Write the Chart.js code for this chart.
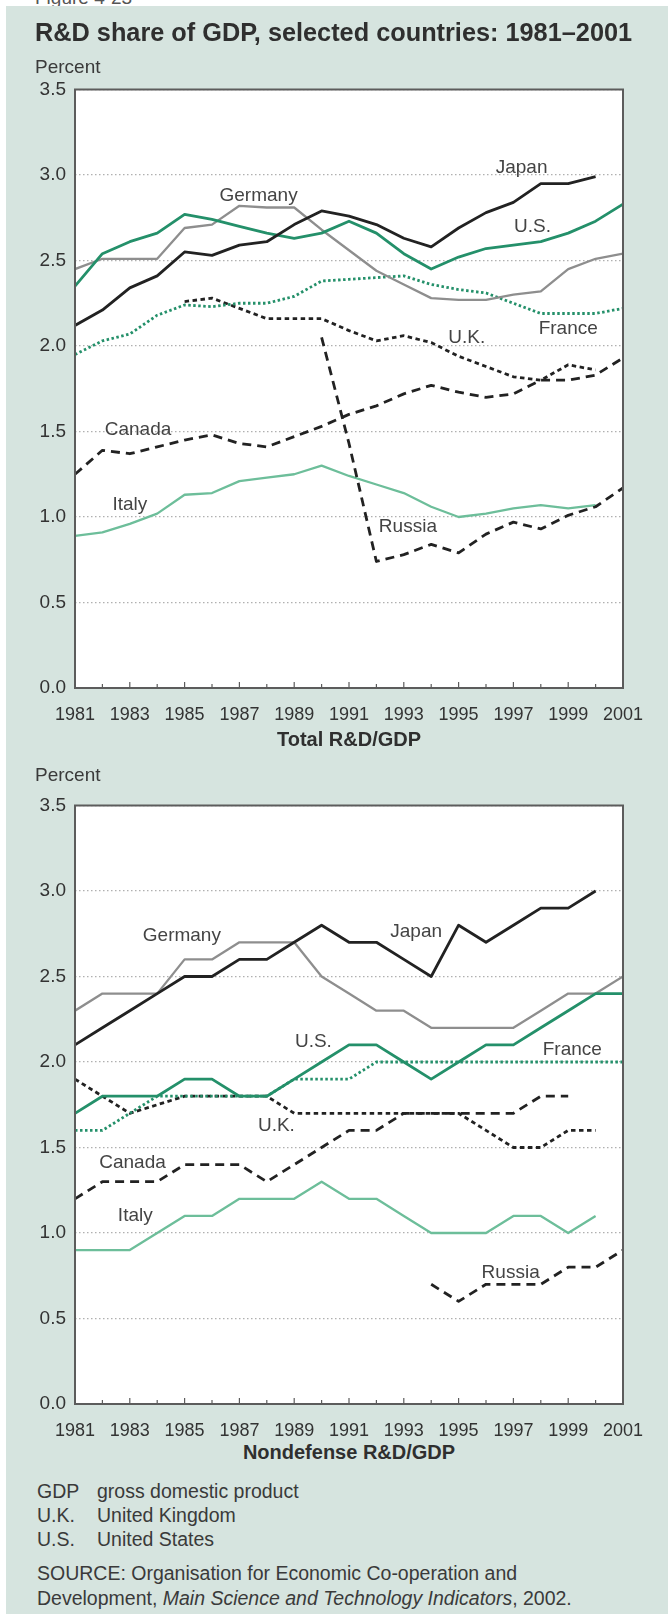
<!DOCTYPE html>
<html>
<head>
<meta charset="utf-8">
<script src="https://cdn.jsdelivr.net/npm/chart.js@4.4.1/dist/chart.umd.min.js"></script>
<style>
    body { margin: 0; background: #fff; }
    #page { position: relative; width: 668px; height: 1614px; overflow: hidden; font-family: "Liberation Sans", Arial, sans-serif; color: #3a3a3a; }
    #bg { position: absolute; left: 6px; top: 6px; right: 0; bottom: 0; background: #d6e4df; z-index: 1; }
    .txt { position: absolute; white-space: nowrap; z-index: 3; }
    canvas { position: absolute; left: 0; z-index: 2; }
    .fig { left: 35px; top: -12px; font-size: 19px; line-height: 19px; color: #555; z-index: 0; }
    .title { left: 35px; top: 17px; font-size: 25.3px; line-height: 30px; font-weight: bold; color: #2f2f2f; }
    .unit { left: 35px; font-size: 19px; line-height: 22px; }
    .sub { left: 75px; width: 548px; text-align: center; font-size: 20px; line-height: 24px; font-weight: bold; color: #2f2f2f; }
    .note { left: 37px; font-size: 19.5px; line-height: 24px; }
    .note b { font-weight: normal; display: inline-block; width: 60px; }
</style>
</head>
<body>
<div id="page">
    <div class="txt fig">Figure 4-23</div>
    <div id="bg"></div>
    <div class="txt title">R&amp;D share of GDP, selected countries: 1981–2001</div>

    <div class="txt unit" style="top:56px">Percent</div>
    <canvas id="totalChart" width="668" height="735" style="top:0"></canvas>
    <div class="txt sub" style="top:727px">Total R&amp;D/GDP</div>

    <div class="txt unit" style="top:764px">Percent</div>
    <canvas id="nondefChart" width="668" height="700" style="top:740px"></canvas>
    <div class="txt sub" style="top:1440px">Nondefense R&amp;D/GDP</div>

    <div class="txt note" style="top:1479px"><b>GDP</b>gross domestic product</div>
    <div class="txt note" style="top:1503px"><b>U.K.</b>United Kingdom</div>
    <div class="txt note" style="top:1527px"><b>U.S.</b>United States</div>
    <div class="txt note" style="top:1561px">SOURCE: Organisation for Economic Co-operation and</div>
    <div class="txt note" style="top:1586px">Development, <i>Main Science and Technology Indicators</i>, 2002.</div>
</div>

<script>
// years on the x axis
const years = [1981, 1982, 1983, 1984, 1985, 1986, 1987, 1988, 1989, 1990, 1991,
               1992, 1993, 1994, 1995, 1996, 1997, 1998, 1999, 2000, 2001];
const yTicks = [0, 0.5, 1.0, 1.5, 2.0, 2.5, 3.0, 3.5];

// Total R&D/GDP (percent)
const japanTotal   = [2.12, 2.21, 2.34, 2.41, 2.55, 2.53, 2.59, 2.61, 2.71, 2.79, 2.76, 2.71, 2.63, 2.58, 2.69, 2.78, 2.84, 2.95, 2.95, 2.99, null];
const usTotal      = [2.35, 2.54, 2.61, 2.66, 2.77, 2.74, 2.70, 2.66, 2.63, 2.66, 2.73, 2.66, 2.54, 2.45, 2.52, 2.57, 2.59, 2.61, 2.66, 2.73, 2.83];
const germanyTotal = [2.45, 2.51, 2.51, 2.51, 2.69, 2.71, 2.82, 2.81, 2.81, 2.68, 2.56, 2.44, 2.36, 2.28, 2.27, 2.27, 2.30, 2.32, 2.45, 2.51, 2.54];
const franceTotal  = [1.95, 2.03, 2.07, 2.18, 2.24, 2.23, 2.25, 2.25, 2.29, 2.38, 2.39, 2.40, 2.41, 2.36, 2.33, 2.31, 2.25, 2.19, 2.19, 2.19, 2.22];
const ukTotal      = [null, null, null, null, 2.26, 2.28, 2.22, 2.16, 2.16, 2.16, 2.09, 2.03, 2.06, 2.02, 1.94, 1.88, 1.82, 1.80, 1.89, 1.86, null];
const canadaTotal  = [1.25, 1.39, 1.37, 1.41, 1.45, 1.48, 1.43, 1.41, 1.47, 1.53, 1.60, 1.65, 1.72, 1.77, 1.73, 1.70, 1.72, 1.80, 1.80, 1.83, 1.93];
const russiaTotal  = [null, null, null, null, null, null, null, null, null, 2.05, 1.43, 0.74, 0.78, 0.84, 0.79, 0.90, 0.97, 0.93, 1.01, 1.06, 1.17];
const italyTotal   = [0.89, 0.91, 0.96, 1.02, 1.13, 1.14, 1.21, 1.23, 1.25, 1.30, 1.24, 1.19, 1.14, 1.06, 1.00, 1.02, 1.05, 1.07, 1.05, 1.07, null];

// Nondefense R&D/GDP (percent)
const japanNondef   = [2.1, 2.2, 2.3, 2.4, 2.5, 2.5, 2.6, 2.6, 2.7, 2.8, 2.7, 2.7, 2.6, 2.5, 2.8, 2.7, 2.8, 2.9, 2.9, 3.0, null];
const usNondef      = [1.7, 1.8, 1.8, 1.8, 1.9, 1.9, 1.8, 1.8, 1.9, 2.0, 2.1, 2.1, 2.0, 1.9, 2.0, 2.1, 2.1, 2.2, 2.3, 2.4, 2.4];
const germanyNondef = [2.3, 2.4, 2.4, 2.4, 2.6, 2.6, 2.7, 2.7, 2.7, 2.5, 2.4, 2.3, 2.3, 2.2, 2.2, 2.2, 2.2, 2.3, 2.4, 2.4, 2.5];
const franceNondef  = [1.6, 1.6, 1.7, 1.8, 1.8, 1.8, 1.8, 1.8, 1.9, 1.9, 1.9, 2.0, 2.0, 2.0, 2.0, 2.0, 2.0, 2.0, 2.0, 2.0, 2.0];
const ukNondef      = [1.9, 1.8, 1.7, 1.75, 1.8, 1.8, 1.8, 1.8, 1.7, 1.7, 1.7, 1.7, 1.7, 1.7, 1.7, 1.6, 1.5, 1.5, 1.6, 1.6, null];
const canadaNondef  = [1.2, 1.3, 1.3, 1.3, 1.4, 1.4, 1.4, 1.3, 1.4, 1.5, 1.6, 1.6, 1.7, 1.7, 1.7, 1.7, 1.7, 1.8, 1.8, null, null];
const russiaNondef  = [null, null, null, null, null, null, null, null, null, null, null, null, null, 0.7, 0.6, 0.7, 0.7, 0.7, 0.8, 0.8, 0.9];
const italyNondef   = [0.9, 0.9, 0.9, 1.0, 1.1, 1.1, 1.2, 1.2, 1.2, 1.3, 1.2, 1.2, 1.1, 1.0, 1.0, 1.0, 1.1, 1.1, 1.0, 1.1, null];

const GREEN = '#24906a';
const INK = '#222';
const styles = {
    'Japan':   { color: INK, width: 2.8, dash: [] },
    'U.S.':    { color: GREEN, width: 2.8, dash: [] },
    'Germany': { color: '#8e8e8e', width: 2.3, dash: [] },
    'France':  { color: GREEN, width: 2.8, dash: [2.5, 2.5] },
    'U.K.':    { color: INK, width: 2.8, dash: [4.5, 3.5] },
    'Canada':  { color: INK, width: 2.8, dash: [9, 6] },
    'Russia':  { color: INK, width: 2.8, dash: [9, 6] },
    'Italy':   { color: '#6dbe9a', width: 2.3, dash: [] }
};

// in-plot series names, anchored in data space (year, percent)
const totalLabels = [
    { text: 'Japan', year: 1997.3, value: 3.04 },
    { text: 'Germany', year: 1987.7, value: 2.88 },
    { text: 'U.S.', year: 1997.7, value: 2.70 },
    { text: 'France', year: 1999.0, value: 2.10 },
    { text: 'U.K.', year: 1995.3, value: 2.05 },
    { text: 'Canada', year: 1983.3, value: 1.51 },
    { text: 'Italy', year: 1983.0, value: 1.07 },
    { text: 'Russia', year: 1993.15, value: 0.94 }
];
const nondefLabels = [
    { text: 'Germany', year: 1984.9, value: 2.74 },
    { text: 'Japan', year: 1993.45, value: 2.76 },
    { text: 'U.S.', year: 1989.7, value: 2.12 },
    { text: 'France', year: 1999.15, value: 2.07 },
    { text: 'U.K.', year: 1988.35, value: 1.63 },
    { text: 'Canada', year: 1983.1, value: 1.41 },
    { text: 'Italy', year: 1983.2, value: 1.10 },
    { text: 'Russia', year: 1996.9, value: 0.77 }
];

const FONT = '"Liberation Sans", Arial, sans-serif';

const framePlugin = {
    id: 'frame',
    beforeDraw(chart) {
        const { ctx, chartArea: a } = chart;
        ctx.save();
        ctx.fillStyle = '#fff';
        ctx.fillRect(a.left, a.top, a.width, a.height);
        ctx.restore();
    },
    afterDatasetsDraw(chart, args, opts) {
        const { ctx, chartArea: a, scales } = chart;
        ctx.save();
        ctx.strokeStyle = '#5c5c5c';
        ctx.lineWidth = 2;
        ctx.strokeRect(a.left, a.top, a.width, a.height);

        // small inward ticks for every year
        ctx.lineWidth = 1.2;
        years.forEach(yr => {
            const px = scales.x.getPixelForValue(yr);
            const len = yr % 2 ? 6 : 4;
            ctx.beginPath();
            ctx.moveTo(px, a.bottom);
            ctx.lineTo(px, a.bottom - len);
            ctx.stroke();
        });

        ctx.font = '19px ' + FONT;
        ctx.fillStyle = '#444';
        ctx.textAlign = 'center';
        ctx.textBaseline = 'middle';
        (opts.labels || []).forEach(l => {
            ctx.fillText(l.text, scales.x.getPixelForValue(l.year), scales.y.getPixelForValue(l.value));
        });
        ctx.restore();
    }
};

function buildChart(id, series, labels, pad, axisHeight) {
    const datasets = series.map(([name, values]) => {
        const s = styles[name];
        return {
            label: name,
            data: years.map((yr, i) => ({ x: yr, y: values[i] })),
            borderColor: s.color,
            borderWidth: s.width,
            borderDash: s.dash,
            borderJoinStyle: 'round',
            pointRadius: 0,
            tension: 0,
            fill: false
        };
    });

    return new Chart(document.getElementById(id), {
        type: 'line',
        data: { datasets },
        plugins: [framePlugin],
        options: {
            responsive: false,
            animation: false,
            devicePixelRatio: 1,
            layout: { padding: { left: 0, right: 45, top: pad, bottom: 0 } },
            plugins: {
                legend: { display: false },
                tooltip: { enabled: false },
                frame: { labels }
            },
            scales: {
                x: {
                    type: 'linear',
                    min: years[0],
                    max: years[years.length - 1],
                    afterFit: s => { s.height = axisHeight; },
                    grid: { display: false },
                    border: { display: false },
                    ticks: {
                        stepSize: 2,
                        padding: 8,
                        color: '#333',
                        font: { family: FONT, size: 18 },
                        maxRotation: 0,
                        callback: v => String(v)
                    }
                },
                y: {
                    min: yTicks[0],
                    max: yTicks[yTicks.length - 1],
                    afterFit: s => { s.width = 75; },
                    afterBuildTicks: s => { s.ticks = yTicks.map(v => ({ value: v })); },
                    // in v4 the border dash is what dashes the grid lines
                    border: { display: false, dash: [1.5, 2.5] },
                    grid: { color: '#b0b0b0', lineWidth: 1.2, drawTicks: false },
                    ticks: {
                        padding: 9,
                        color: '#333',
                        font: { family: FONT, size: 19 },
                        callback: v => v.toFixed(1)
                    }
                }
            }
        }
    });
}

buildChart('totalChart', [
    ['Japan', japanTotal], ['U.S.', usTotal], ['Germany', germanyTotal], ['France', franceTotal],
    ['U.K.', ukTotal], ['Canada', canadaTotal], ['Russia', russiaTotal], ['Italy', italyTotal]
], totalLabels, 89.5, 47);

buildChart('nondefChart', [
    ['Japan', japanNondef], ['U.S.', usNondef], ['Germany', germanyNondef], ['France', franceNondef],
    ['U.K.', ukNondef], ['Canada', canadaNondef], ['Russia', russiaNondef], ['Italy', italyNondef]
], nondefLabels, 65.5, 36);
</script>
</body>
</html>
